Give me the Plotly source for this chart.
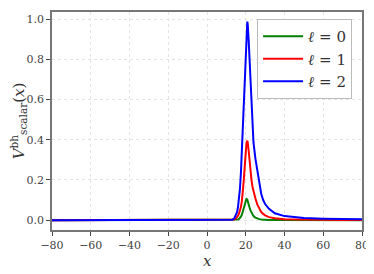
import plotly.graph_objects as go

# x positions (tortoise coordinate)
x_vals = [-80, -60, -40, -20, 0, 10, 12, 13, 14, 15, 15.5, 16, 16.5, 17, 17.5, 18, 18.5, 19, 19.5,
          20, 20.4, 20.8, 21, 21.5, 22, 22.5, 23, 23.5, 24, 25, 26, 27, 28, 29, 30, 32, 35, 40,
          45, 50, 60, 70, 80]

# ell = 0
v_l0 = [0, 0, 0, 0, 0, 0, 0, 0, 0.0005, 0.001, 0.002, 0.003, 0.006, 0.01, 0.017, 0.027, 0.04, 0.055, 0.076,
        0.096, 0.105, 0.102, 0.097, 0.08, 0.062, 0.047, 0.036, 0.027, 0.02, 0.012, 0.007, 0.005, 0.003, 0.002, 0.0015, 0.001, 0.0006, 0.0003,
        0.0002, 0.0001, 0, 0, 0]

# ell = 1
v_l1 = [0, 0, 0, 0, 0, 0, 0, 0.001, 0.003, 0.009, 0.014, 0.022, 0.032, 0.046, 0.065, 0.095, 0.135, 0.2, 0.27,
        0.34, 0.385, 0.395, 0.388, 0.345, 0.285, 0.235, 0.197, 0.165, 0.14, 0.108, 0.077, 0.055, 0.04, 0.031, 0.024, 0.015, 0.009, 0.005,
        0.0035, 0.0027, 0.0018, 0.0013, 0.001]

# ell = 2
v_l2 = [0, 0, 0, 0, 0, 0, 0, 0.002, 0.008, 0.025, 0.04, 0.065, 0.1, 0.155, 0.235, 0.34, 0.445, 0.555, 0.67,
        0.79, 0.9, 0.987, 0.975, 0.895, 0.785, 0.655, 0.54, 0.45, 0.385, 0.305, 0.24, 0.183, 0.13, 0.1, 0.08, 0.056, 0.034, 0.02,
        0.015, 0.011, 0.0075, 0.0055, 0.004]

series_names = ["<i>ℓ</i> = 0", "<i>ℓ</i> = 1", "<i>ℓ</i> = 2"]
series_vals = [v_l0, v_l1, v_l2]
series_colors = ["#008000", "#ff0000", "#0000ff"]

x_ticks = [-80, -60, -40, -20, 0, 20, 40, 60, 80]
x_ticktext = ["−80", "−60", "−40", "−20", "0", "20", "40", "60", "80"]
y_ticks = [0.0, 0.2, 0.4, 0.6, 0.8, 1.0]
y_ticktext = ["0.0", "0.2", "0.4", "0.6", "0.8", "1.0"]

FONT = "DejaVu Serif"

fig = go.Figure()
for name, vals, col in zip(series_names, series_vals, series_colors):
    fig.add_trace(go.Scatter(x=x_vals, y=vals, mode="lines", name=name,
                             line=dict(color=col, width=2)))

axis_common = dict(
    showline=True, mirror=True, linecolor="#777", linewidth=1.5,
    ticks="outside", ticklen=4, tickwidth=1, tickcolor="#444",
    showgrid=True, gridcolor="#e4e4e4", griddash="dot", gridwidth=1,
    zeroline=False,
    tickfont=dict(family=FONT, size=11, color="#444"),
)

# page body has an 8px default margin, so the figure is sized to fill the rest
fig.update_layout(
    width=366, height=266,
    margin=dict(l=44, r=12, t=2, b=44),
    paper_bgcolor="white", plot_bgcolor="white",
    font=dict(family=FONT, color="#333"),
    xaxis=dict(range=[-80, 80], tickvals=x_ticks, ticktext=x_ticktext, **axis_common),
    yaxis=dict(range=[-0.049, 1.035], tickvals=y_ticks, ticktext=y_ticktext,
               title=dict(text="<i>V</i><sup>bh</sup><sub>scalar</sub>(<i>x</i>)",
                          font=dict(family=FONT, size=15, color="#333"), standoff=6),
               **axis_common),
    legend=dict(x=0.968, y=0.968, xanchor="right", yanchor="top",
                bgcolor="white", bordercolor="#bbb", borderwidth=1,
                font=dict(family=FONT, size=15, color="#333"),
                itemwidth=40, tracegroupgap=0),
    annotations=[dict(text="<i>x</i>", xref="paper", yref="paper", x=0.5, y=-0.14,
                      xanchor="center", yanchor="middle", showarrow=False,
                      font=dict(family=FONT, size=15, color="#333"))],
    showlegend=True,
)

fig.write_html("out.html")
